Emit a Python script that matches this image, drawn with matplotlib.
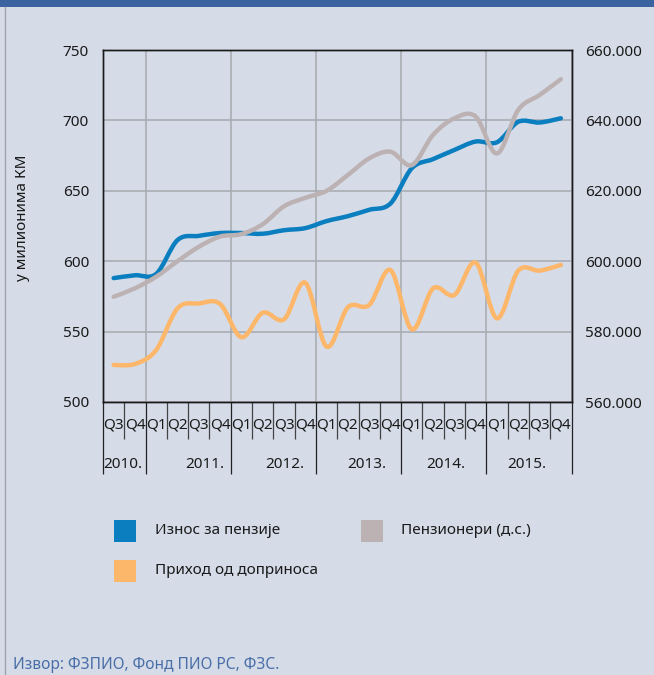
import numpy as np
import matplotlib
matplotlib.use('Agg')
import matplotlib.pyplot as plt
from matplotlib.path import Path
from matplotlib.patches import PathPatch, Rectangle
from matplotlib.ticker import FuncFormatter, FixedLocator
from matplotlib.lines import Line2D

# ---------------- data ----------------
quarters = ['Q3', 'Q4'] + ['Q1', 'Q2', 'Q3', 'Q4'] * 5
years = ['2010.', '2011.', '2012.', '2013.', '2014.', '2015.']
quarters_per_year = [2, 4, 4, 4, 4, 4]

pensions = [588, 590, 591, 615, 618, 620, 620, 619.5, 622, 623.5, 628.5, 632,
            636.5, 641, 666, 672.5, 679, 685, 684.5, 699, 698.5, 701.5]
pensioners = [589900, 592300, 595600, 600000, 604100, 607000, 607700, 610500,
              615600, 618000, 620000, 624500, 629200, 631100, 627300, 635900,
              640600, 641100, 630600, 643000, 647200, 651700]
contributions = [526.3, 527, 537, 566.5, 570, 569.6, 546, 563.4, 558.7, 584.7,
                 539.3, 567.3, 568.9, 593.7, 551.6, 580.7, 576, 599, 559.4,
                 593.3, 593.3, 597.3]

series_names = ['Износ за пензије', 'Пензионери (д.с.)', 'Приход од доприноса']

# ---------------- style ----------------
BG = '#d5dce8'
BLUE = '#0a7ebf'
GREY = '#bdb2b3'
ORANGE = '#fdb76b'
GRID = '#a9acb2'
FONT = 'Noto Sans'
plt.rcParams['font.family'] = [FONT, 'DejaVu Sans']

W, H = 654, 675
fig = plt.figure(figsize=(W / 100, H / 100), dpi=100, facecolor=BG)

def fx(px):
    return px / W

def fy(py):
    return 1 - py / H

L, R, T, B = 103, 571.5, 50, 402
ax = fig.add_axes([fx(L), fy(B), fx(R) - fx(L), fy(T) - fy(B)])
ax.set_facecolor(BG)
ax2 = ax.twinx()

n = len(quarters)
xs = np.arange(n) + 0.5


def smooth_path(x, y):
    x = np.asarray(x, float)
    y = np.asarray(y, float)
    P = np.column_stack([x, y])
    Pe = np.vstack([P[0], P, P[-1]])
    verts = [P[0]]
    codes = [Path.MOVETO]
    for i in range(len(P) - 1):
        p0, p1, p2, p3 = Pe[i], Pe[i + 1], Pe[i + 2], Pe[i + 3]
        c1 = p1 + (p2 - p0) / 6.0
        c2 = p2 - (p3 - p1) / 6.0
        verts += [c1, c2, p2]
        codes += [Path.CURVE4] * 3
    return Path(verts, codes)


LW = 3.2
ax.add_patch(PathPatch(smooth_path(xs, contributions), facecolor='none',
                       edgecolor=ORANGE, lw=LW, zorder=3, capstyle='round', joinstyle='round'))
ax.add_patch(PathPatch(smooth_path(xs, pensions), facecolor='none',
                       edgecolor=BLUE, lw=LW, zorder=4, capstyle='round', joinstyle='round'))
ax2.add_patch(PathPatch(smooth_path(xs, pensioners), facecolor='none',
                        edgecolor=GREY, lw=LW, zorder=5, capstyle='round', joinstyle='round'))

ax.set_xlim(0, n)
ax.set_ylim(500, 750)
ax2.set_ylim(560000, 660000)

# gridlines
ax.yaxis.set_major_locator(FixedLocator([500, 550, 600, 650, 700, 750]))
ax2.yaxis.set_major_locator(FixedLocator([560000, 580000, 600000, 620000, 640000, 660000]))
bounds = np.cumsum([0] + quarters_per_year)
ax.xaxis.set_major_locator(FixedLocator(bounds))
ax.xaxis.set_minor_locator(FixedLocator(np.arange(n + 1)))
ax.grid(True, which='major', color=GRID, lw=1.2, zorder=1)
ax.set_axisbelow(True)

ax.tick_params(axis='x', which='major', length=51.8, width=0.9, color='#222222',
               direction='out', labelbottom=False)
ax.tick_params(axis='x', which='minor', length=26.6, width=0.9, color='#444444',
               direction='out', labelbottom=False)
ax.tick_params(axis='y', length=0, pad=10, labelsize=11, labelcolor='#1a1a1a')
ax2.tick_params(axis='y', length=0, pad=9.7, labelsize=11, labelcolor='#1a1a1a')
ax2.yaxis.set_major_formatter(FuncFormatter(lambda v, p: f'{int(round(v)):,}'.replace(',', '.')))

for a in (ax, ax2):
    for s in a.spines.values():
        s.set_color('#1a1a1a')
        s.set_linewidth(1.0)

# quarter labels
for i, q in enumerate(quarters):
    ax.text(i + 0.5, (425 - B) / -(B - T), q, transform=ax.get_xaxis_transform(),
            ha='center', va='center', fontsize=11, color='#1a1a1a')

# year labels
year_pos = [0.95, 4.8, 8.55, 12.4, 16.1, 19.9]
for yp, yl in zip(year_pos, years):
    ax.text(yp, (465 - B) / -(B - T), yl, transform=ax.get_xaxis_transform(),
            ha='center', va='center', fontsize=11, color='#1a1a1a')

# y label
fig.text(fx(23), fy(218), 'у милионима КМ', rotation=90, ha='center', va='center',
         fontsize=11, color='#1a1a1a')

# legend
legend_items = [(BLUE, series_names[0], 114, 520, 155),
                (GREY, series_names[1], 361, 520, 401),
                (ORANGE, series_names[2], 114, 560, 155)]
for col, name, x0, y0, tx in legend_items:
    fig.patches.append(Rectangle((fx(x0), fy(y0 + 22)), fx(22), 22 / H,
                                 transform=fig.transFigure, facecolor=col, edgecolor='none'))
    fig.text(fx(tx), fy(y0 + 11), name, ha='left', va='center', fontsize=11, color='#1a1a1a')

# source
fig.text(fx(13), fy(665), 'Извор: ФЗПИО, Фонд ПИО РС, ФЗС.', ha='left', va='center',
         fontsize=11.2, color='#4a6ea8')

# top band and left border
fig.patches.append(Rectangle((0, fy(7)), 1, 7 / H, transform=fig.transFigure,
                             facecolor='#3b63a0', edgecolor='none'))
fig.lines.append(Line2D([fx(4.5), fx(4.5)], [0, fy(7)], transform=fig.transFigure,
                        color='#a0a4ac', lw=1))

fig.savefig('out.png', dpi=100, facecolor=BG)
